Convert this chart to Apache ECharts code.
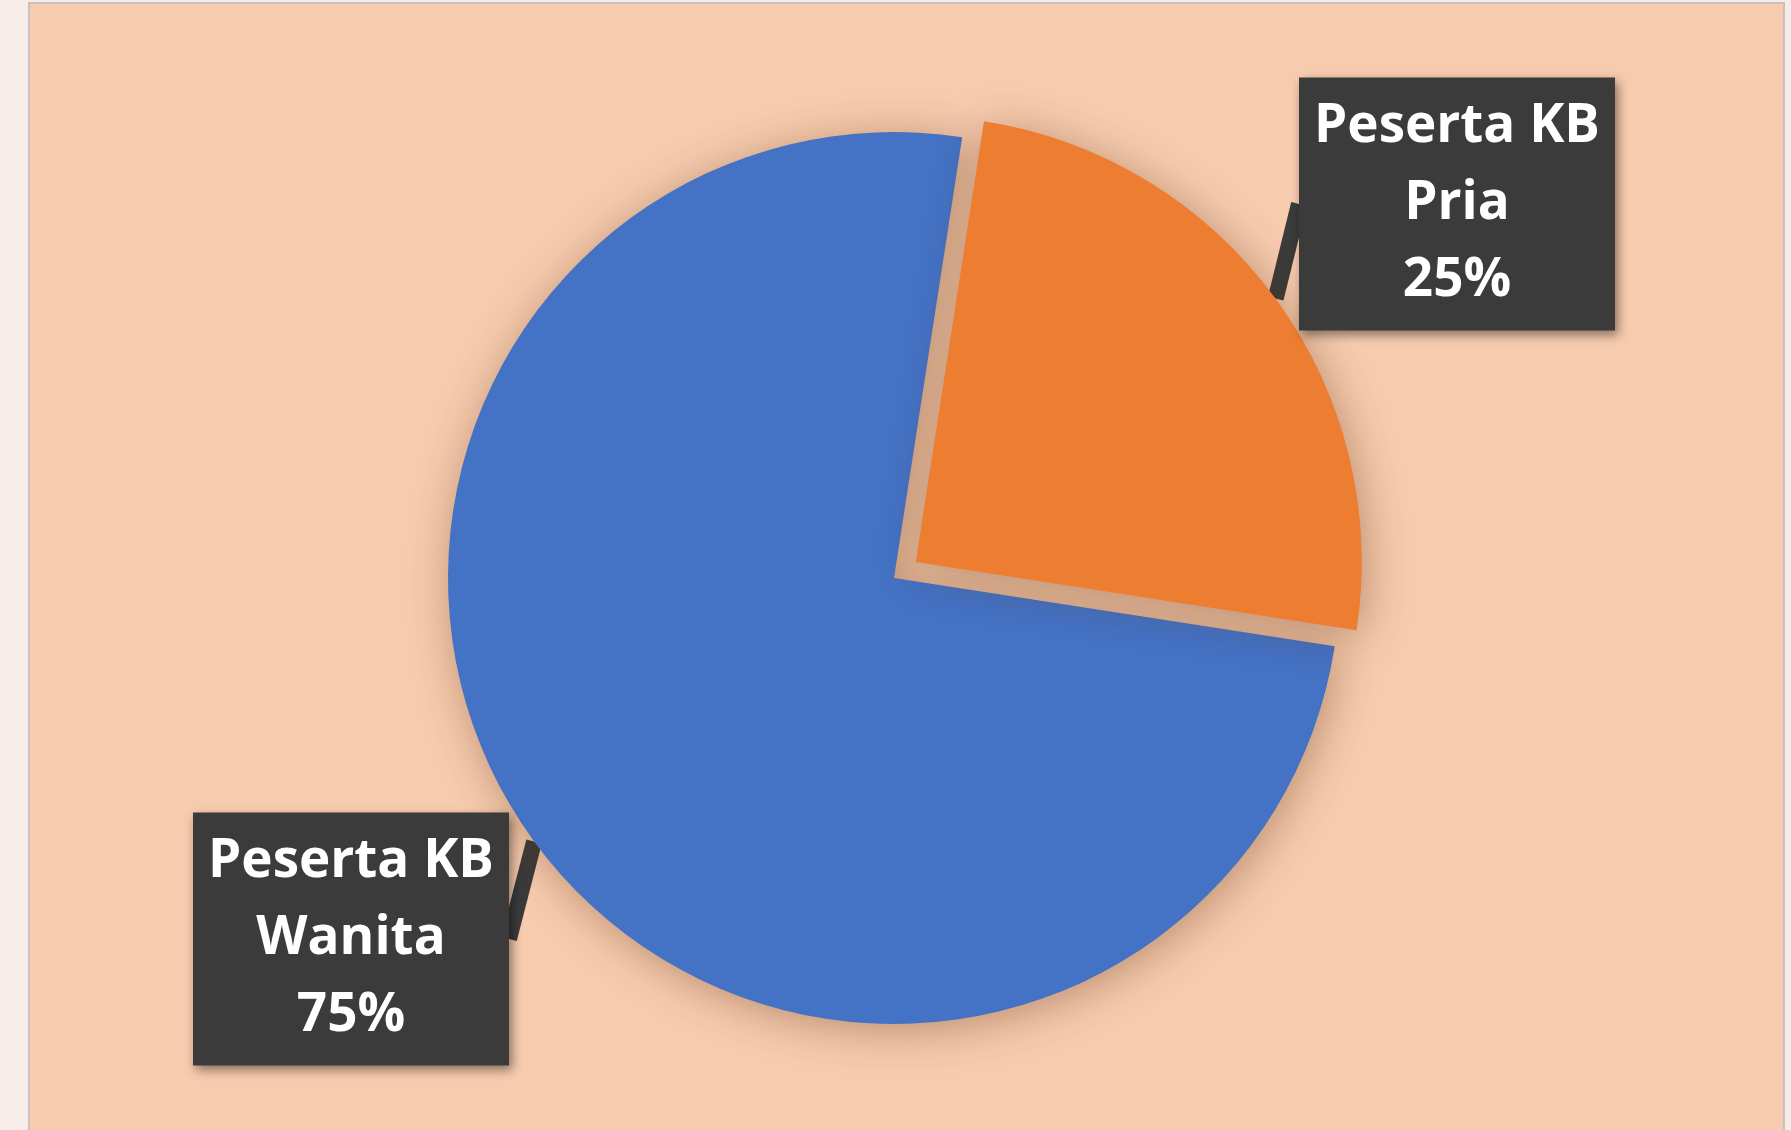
<!DOCTYPE html>
<html>
<head>
<meta charset="utf-8">
<script src="https://cdn.jsdelivr.net/npm/echarts@6/dist/echarts.min.js"></script>
<style>
    html, body {
        margin: 0;
        padding: 0;
        width: 1791px;
        height: 1130px;
        overflow: hidden;
        background: #F6ECE8;
    }
    .panel {
        position: absolute;
        left: 28px;
        top: 2px;
        width: 1753px;
        height: 1140px;
        border: 2px solid #C9C1BD;
        background: #F7CBAE;
    }
    #pie {
        width: 1753px;
        height: 1126px;
    }
</style>
</head>
<body>
<div class="panel"><div id="pie"></div></div>
<script>
    // kategori peserta KB
    var kategori = ['Peserta KB\nPria', 'Peserta KB\nWanita']
    // persentase (%)
    var persen = [25, 75]
    // warna tiap irisan
    var warna = ['#ED7D31', '#4472C4']

    // pusat pie dan jarak irisan yang ditarik keluar (px)
    var pusat = [864, 574]
    var jari = 446
    var sudutAwal = 81.2
    var tarikKeluar = 27
    // posisi tengah kotak label (px dalam area chart)
    var posisiLabel = [
        { x: 1427, y: 200 },
        { x: 321, y: 935 }
    ]

    var total = persen.reduce(function (a, b) { return a + b }, 0)

    // satu series per irisan supaya irisan Pria bisa digeser keluar
    function buatSeries (k) {
        // sudut tengah irisan k (derajat, berlawanan jarum jam dari arah jam 3)
        var awal = 0
        for (var i = 0; i < k; i++) awal += persen[i]
        var tengah = sudutAwal - (awal + persen[k] / 2) / total * 360
        var geser = k === 0 ? tarikKeluar : 0
        var rad = tengah * Math.PI / 180
        return {
            type: 'pie',
            center: [pusat[0] + Math.cos(rad) * geser, pusat[1] - Math.sin(rad) * geser],
            radius: jari,
            startAngle: sudutAwal,
            silent: true,
            emphasis: { disabled: true },
            data: kategori.map(function (nama, i) {
                var tampil = i === k
                return {
                    name: nama,
                    value: persen[i],
                    itemStyle: {
                        color: tampil ? warna[i] : 'rgba(0,0,0,0)',
                        shadowBlur: tampil ? 44 : 0,
                        shadowColor: 'rgba(90, 45, 10, 0.38)',
                        shadowOffsetX: 4,
                        shadowOffsetY: 6
                    },
                    label: { show: tampil },
                    labelLine: { show: tampil }
                }
            }),
            label: {
                formatter: function (p) {
                    return p.name + '\n' + Math.round(p.percent) + '%'
                },
                color: '#FFFFFF',
                fontFamily: 'Open Sans',
                fontWeight: 'bold',
                fontSize: 53,
                lineHeight: 77,
                align: 'center',
                width: 288,
                overflow: 'none',
                padding: [22, 14, 0, 14],
                backgroundColor: '#3B3B3B',
                shadowBlur: 10,
                shadowColor: 'rgba(0, 0, 0, 0.45)',
                shadowOffsetX: 3,
                shadowOffsetY: 4
            },
            labelLine: {
                length: 0,
                length2: 0,
                lineStyle: {
                    color: '#3B3B3B',
                    width: 16
                }
            },
            labelLayout: function (params) {
                var pos = posisiLabel[params.dataIndex]
                return {
                    x: pos.x,
                    y: pos.y,
                    align: 'center',
                    verticalAlign: 'middle'
                }
            }
        }
    }

    var chart = echarts.init(document.getElementById('pie'))
    chart.setOption({
        animation: false,
        series: [buatSeries(1), buatSeries(0)]
    })
</script>
</body>
</html>
